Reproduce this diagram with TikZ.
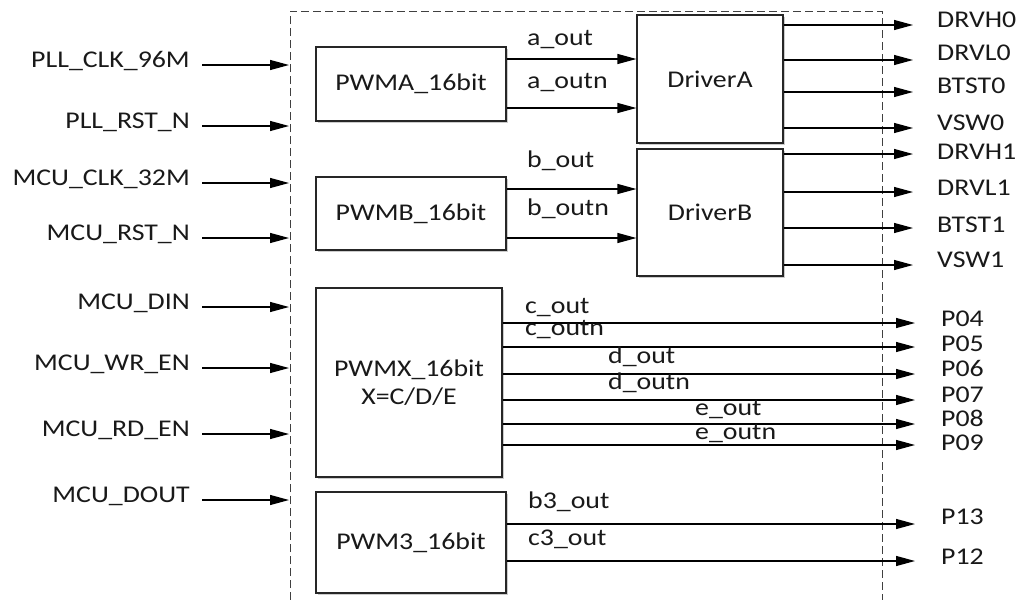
\documentclass[tikz,border=0pt]{standalone}
\usepackage{fontspec}
\setmainfont{Carlito}[FakeStretch=1.16]
\usetikzlibrary{arrows.meta,shadows}
\begin{document}
\begin{tikzpicture}[x=1pt,y=-1pt,
  every node/.style={font=\fontsize{24}{28}\selectfont, text=black!90},
  blk/.style={draw=black!85, line width=1.2pt, fill=white, align=center,
    drop shadow={shadow xshift=1.5pt, shadow yshift=-1.5pt, fill=black!40, opacity=0.5}},
  arr/.style={line width=1.2pt, -{Triangle[length=19pt,width=10pt]}},
  lbl/.style={inner sep=0pt, text height=0.68em, text depth=0.12em},
  sig/.style={inner sep=0pt, anchor=west, text height=0.68em, text depth=0.12em},
  frame/.style={draw=black!75, line width=1pt, dash pattern=on 8pt off 4pt}]
\useasboundingbox (0,0) rectangle (1021,600);

% dashed boundary
\draw[frame] (290,600) -- (290,11) -- (882,11) -- (882,600);

% blocks
\node[blk, minimum width=190pt, minimum height=74pt] (pwma) at (411,84) {PWMA\_16bit};
\node[blk, minimum width=190pt, minimum height=73pt] (pwmb) at (411,213.5) {PWMB\_16bit};
\node[blk, minimum width=146pt, minimum height=128pt] (drva) at (710,79) {DriverA};
\node[blk, minimum width=146pt, minimum height=127pt] (drvb) at (710,212.5) {DriverB};
\node[blk, minimum width=186pt, minimum height=189pt] (pwmx) at (409,382.5) {PWMX\_16bit\\X=C/D/E};
\node[blk, minimum width=190pt, minimum height=101pt] (pwm3) at (411,542.5) {PWM3\_16bit};

% inputs
\foreach \n/\t/\y in {i1/PLL\_CLK\_96M/65, i2/PLL\_RST\_N/126, i3/MCU\_CLK\_32M/183,
    i4/MCU\_RST\_N/238, i5/MCU\_DIN/307, i6/MCU\_WR\_EN/368, i7/MCU\_RD\_EN/434, i8/MCU\_DOUT/500}{
  \node[lbl, anchor=east] (\n) at (190,\y) {\t};
  \coordinate (\n e) at (289,\y);
  \draw[arr] ([xshift=12pt]\n.east) -- (\n e);
}

% PWMA/PWMB to drivers
\draw[arr] (pwma.east |- 0,59) -- (drva.west |- 0,59);
\draw[arr] (pwma.east |- 0,108) -- (drva.west |- 0,108);
\draw[arr] (pwmb.east |- 0,189) -- (drvb.west |- 0,189);
\draw[arr] (pwmb.east |- 0,238) -- (drvb.west |- 0,238);
\node[sig] (la1) at (527,43) {a\_out};
\node[sig] (la2) at (527,86) {a\_outn};
\node[sig] (lb1) at (527,165) {b\_out};
\node[sig] (lb2) at (527,213) {b\_outn};

% driver outputs
\foreach \n/\t/\y/\ly in {o1/DRVH0/25/25, o2/DRVL0/60/58, o3/BTST0/92/91, o4/VSW0/128/128}{
  \coordinate (\n) at (913,\y);
  \draw[arr] (drva.east |- \n) -- (\n);
  \node[sig] (\n l) at (937,\ly) {\t};
}
\foreach \n/\t/\y/\ly in {o5/DRVH1/154/157, o6/DRVL1/192/193, o7/BTST1/228/230, o8/VSW1/265/265}{
  \coordinate (\n) at (913,\y);
  \draw[arr] (drvb.east |- \n) -- (\n);
  \node[sig] (\n l) at (937,\ly) {\t};
}

% PWMX outputs
\foreach \n/\t/\y/\ly/\s/\sx/\sy in {p4/P04/323/324/c\_out/525/311, p5/P05/347/349/c\_outn/525/333,
    p6/P06/374/374/d\_out/608/361, p7/P07/400/400/d\_outn/608/387,
    p8/P08/424/424/e\_out/695/413, p9/P09/445/448/e\_outn/695/437}{
  \coordinate (\n) at (915,\y);
  \draw[arr] (pwmx.east |- \n) -- (\n);
  \node[sig] (\n l) at (941,\ly) {\t};
  \node[sig] (\n s) at (\sx,\sy) {\s};
}

% PWM3 outputs
\foreach \n/\t/\y/\ly/\s/\sy in {p13/P13/524/522/b3\_out/506, p12/P12/561/562/c3\_out/543}{
  \coordinate (\n) at (915,\y);
  \draw[arr] (pwm3.east |- \n) -- (\n);
  \node[sig] (\n l) at (941,\ly) {\t};
  \node[sig] (\n s) at (528,\sy) {\s};
}
\end{tikzpicture}
\end{document}
